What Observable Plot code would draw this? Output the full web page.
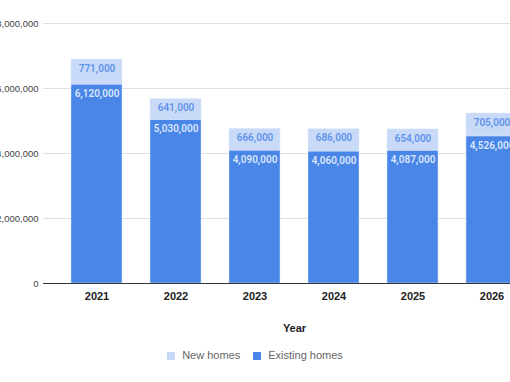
<!DOCTYPE html>
<html><head><meta charset="utf-8">
<script src="https://cdn.jsdelivr.net/npm/d3@7"></script>
<script src="https://cdn.jsdelivr.net/npm/@observablehq/plot@0.6"></script>
<style>
body{margin:0;background:#fff;}
#wrap{position:relative;width:510px;height:382px;overflow:hidden;font-family:Arial,"Liberation Sans",sans-serif;background:#fff;}
#chart{position:absolute;left:-27px;top:0;}
#chart svg{max-width:none;}
#legend{position:absolute;top:349px;left:0;width:510px;display:flex;justify-content:center;gap:13px;font-size:11px;color:#666;line-height:13px;}
.item{display:flex;align-items:center;gap:7px;}
.sw{width:8px;height:8px;display:inline-block;}
</style></head>
<body>
<div id="wrap"><div id="chart"></div><div id="legend"></div></div>
<script>
const years = ["2021", "2022", "2023", "2024", "2025", "2026"];
const existingHomes = [6120000, 5030000, 4090000, 4060000, 4087000, 4526000];
const newHomes = [771000, 641000, 666000, 686000, 654000, 705000];
const seriesNames = ["Existing homes", "New homes"];
const seriesColors = ["#4a86e8", "#c9daf8"];
const yTicks = [0, 2000000, 4000000, 6000000, 8000000];

const rows = [];
years.forEach((y, i) => rows.push({year: y, series: "Existing homes", value: existingHomes[i], top: existingHomes[i]}));
years.forEach((y, i) => rows.push({year: y, series: "New homes", value: newHomes[i], top: existingHomes[i] + newHomes[i]}));
const fmt = d3.format(",");

const chart = Plot.plot({
  width: 592,
  height: 340,
  marginLeft: 70,
  marginRight: 20,
  marginTop: 23,
  marginBottom: 57,
  style: {fontFamily: "Arial, 'Liberation Sans', sans-serif", background: "transparent"},
  x: {type: "band", domain: years, paddingInner: 0.355, paddingOuter: 0.35},
  y: {domain: [0, 8000000]},
  color: {domain: seriesNames, range: seriesColors},
  marks: [
    Plot.gridY(yTicks, {stroke: "#e0e0e0", strokeOpacity: 1}),
    Plot.barY(rows, Plot.stackY({x: "year", y: "value", fill: "series", order: seriesNames, stroke: "#dbe6fa", strokeWidth: 0.6, strokeOpacity: 0.8})),
    Plot.text(rows.filter(d => d.series === "Existing homes"), {x: "year", y: "top", text: d => fmt(d.value), lineAnchor: "top", dy: 5, fill: "#dbe6fb", fontSize: 10, fontWeight: 600, fontFamily: "Roboto"}),
    Plot.text(rows.filter(d => d.series === "New homes"), {x: "year", y: "top", text: d => fmt(d.value), lineAnchor: "top", dy: 5, fill: "#5f93ea", fontSize: 10, fontWeight: 600, fontFamily: "Roboto"}),
    Plot.ruleY([0], {stroke: "#333"}),
    Plot.axisY(yTicks, {tickSize: 0, tickPadding: 5, tickFormat: fmt, label: null, fontSize: 9.5, fill: "#444"}),
    Plot.axisX({tickSize: 0, tickPadding: 9, fontSize: 11, fontWeight: "bold", fill: "#222", label: "Year", labelAnchor: "center", labelOffset: 48})
  ]
});
document.getElementById("chart").appendChild(chart);

const legend = document.getElementById("legend");
[1, 0].forEach(i => {
  const it = document.createElement("div");
  it.className = "item";
  const sw = document.createElement("span");
  sw.className = "sw";
  sw.style.background = seriesColors[i];
  const tx = document.createElement("span");
  tx.textContent = seriesNames[i];
  it.appendChild(sw); it.appendChild(tx);
  legend.appendChild(it);
});
</script>
</body></html>
